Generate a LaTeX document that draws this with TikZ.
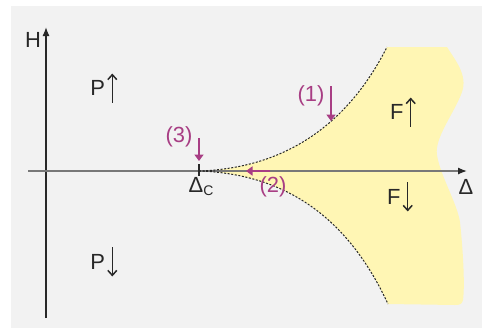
\documentclass[tikz,border=0pt]{standalone}
\usepackage{fontspec}
\setmainfont{Liberation Sans}
\usetikzlibrary{positioning, arrows.meta}
\definecolor{PanelGray}{RGB}{242, 242, 242}
\definecolor{PhaseYellow}{RGB}{255, 246, 180}
\definecolor{PathMagenta}{RGB}{168, 62, 132}
\definecolor{AxisGray}{RGB}{120, 120, 120}
\definecolor{InkDark}{RGB}{40, 40, 40}
\newcommand{\spinup}{\kern2bp\tikz[baseline=0pt, x=1bp, y=1bp]
  \draw[draw=InkDark, line width=1.5bp, -{Straight Barb[length=5bp, width=9bp]}] (0,-7) -- (0,22);}
\newcommand{\spindown}{\kern2bp\tikz[baseline=0pt, x=1bp, y=1bp]
  \draw[draw=InkDark, line width=1.5bp, -{Straight Barb[length=5bp, width=9bp]}] (0,22) -- (0,-7);}

\begin{document}
\begin{tikzpicture}[
    x=1bp, y=-1bp,
    every node/.style={align=center, font=\fontsize{22}{25}\selectfont, text=InkDark, inner sep=0pt},
    axis/.style={draw=InkDark, line width=1.3bp, -{Latex[length=9bp, width=7bp]}},
    boundary/.style={draw=black!85, line width=1bp, dash pattern=on 2bp off 1.6bp},
    route/.style={draw=PathMagenta, line width=2.6bp, -{Triangle[length=6.5bp, width=9bp]}},
    routelabel/.style={text=PathMagenta}
  ]
    % panel
    \useasboundingbox (0,0) rectangle (482,328);
    \fill[PanelGray] (11,6) rectangle (482,328);

    % points of the phase diagram
    \coordinate (dc) at (199,171);
    \coordinate (uptop) at (387,47);
    \coordinate (lowbot) at (388,304);

    % ferro region
    \fill[PhaseYellow] (dc) .. controls (290,168) and (350,120) .. (uptop)
      -- (447,47) .. controls (455,60) and (468,75) .. (462,92)
      .. controls (455,112) and (434,138) .. (437,155)
      .. controls (440,175) and (457,203) .. (460,222)
      .. controls (463,250) and (465,285) .. (463,300)
      .. controls (462,304) and (460,305) .. (455,305)
      -- (lowbot) .. controls (350,222) and (290,174) .. (dc);

    % axes
    \coordinate (hbot) at (46,318);
    \coordinate (htop) at (46,27);
    \coordinate (dleft) at (28,171);
    \coordinate (dright) at (467,171);
    \draw[axis] (hbot) -- (htop);
    \draw[axis, draw=AxisGray, -{Latex[length=9bp, width=7bp, color=InkDark]}] (dleft) -- (dright);
    \node (hlabel) at (33,40) {H};
    \node (dlabel) at (466,187) {Δ};
    \draw[draw=InkDark, line width=1.2bp] (199,164) -- (199,176);
    \node (dclabel) at (201,187) {Δ\fontsize{14}{15}\selectfont\raisebox{-3bp}{C}};

    % phase boundaries
    \draw[boundary] (dc) .. controls (290,168) and (350,120) .. (uptop);
    \draw[boundary] (dc) .. controls (290,174) and (350,222) .. (lowbot);

    % phases
    \node (pup) at (104,88) {P\spinup};
    \node (pdown) at (104,262) {P\spindown};
    \node (fup) at (403,112) {F\spinup};
    \node (fdown) at (400,197) {F\spindown};

    % paths (1), (2), (3)
    \node[routelabel] (one) at (311,96) {(1)};
    \coordinate (onestart) at (331,86);
    \coordinate (oneend) at (331,121);
    \draw[route] (onestart) -- (oneend);

    \node[routelabel] (two) at (273,187) {(2)};
    \coordinate (twostart) at (270,171);
    \coordinate (twoend) at (246,171);
    \draw[route] (twostart) -- (twoend);

    \node[routelabel] (three) at (179,137) {(3)};
    \coordinate (threestart) at (199,138);
    \coordinate (threeend) at (199,161);
    \draw[route] (threestart) -- (threeend);
  \end{tikzpicture}
\end{document}
